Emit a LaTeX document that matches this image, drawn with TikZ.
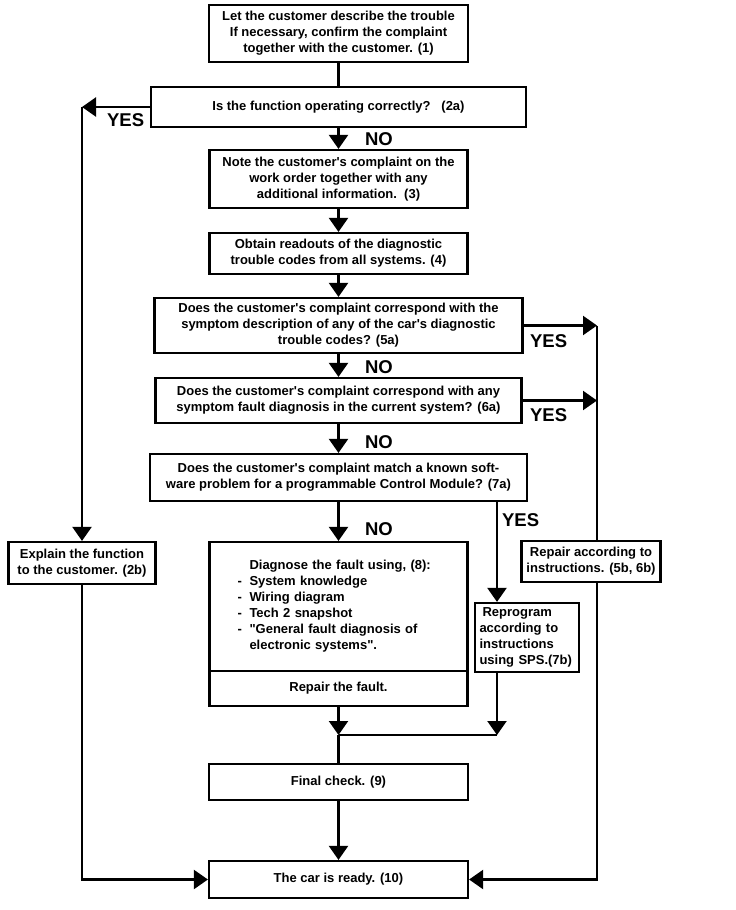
\documentclass[tikz,border=0pt]{standalone}
\usepackage{fontspec}
\setmainfont{Liberation Sans}
\usetikzlibrary{arrows.meta}

\tikzset{every picture/.style={line width=2.2pt}}
\newcommand{\boxfont}{\bfseries\fontsize{13}{16}\selectfont}
\newcommand{\lblfont}{\bfseries\fontsize{18.5}{20}\selectfont}
\newcommand{\apos}{\textquotesingle}

\begin{document}
\begin{tikzpicture}[x=1pt,y=1pt,yscale=-1,xscale=1,
  stepbox/.style={draw,rectangle,inner sep=0pt,align=center,font=\boxfont},
  lbl/.style={anchor=west,inner sep=0pt,font=\lblfont},
  arr/.style={-{Triangle[length=14pt,width=19pt]}}]
\useasboundingbox (0,0) rectangle (736,910);
%Shape: Rectangle (1)
\node[stepbox,minimum width=259pt,minimum height=57pt] (describe) at (338.5,33.5) {Let the customer describe the trouble\\If necessary, confirm the complaint\\together with the customer. (1)};
%Shape: Rectangle (2a)
\node[stepbox,minimum width=375pt,minimum height=40pt] (func) at (338.5,107) {Is the function operating correctly?\ \ \ (2a)};
%Shape: Rectangle (3)
\node[stepbox,minimum width=258pt,minimum height=58pt] (note) at (338.5,179) {Note the customer\apos s complaint on the\\work order together with any\\additional information.\ \ (3)};
%Shape: Rectangle (4)
\node[stepbox,minimum width=258pt,minimum height=41pt] (codes) at (338.5,253.5) {Obtain readouts of the diagnostic\\trouble codes from all systems. (4)};
%Shape: Rectangle (5a)
\node[stepbox,minimum width=368pt,minimum height=55pt] (corr5) at (338.5,325.5) {Does the customer\apos s complaint correspond with the\\symptom description of any of the car\apos s diagnostic\\trouble codes? (5a)};
%Shape: Rectangle (6a)
\node[stepbox,minimum width=366pt,minimum height=45pt] (corr6) at (338.5,400.5) {Does the customer\apos s complaint correspond with any\\symptom fault diagnosis in the current system? (6a)};
%Shape: Rectangle (7a)
\node[stepbox,minimum width=377pt,minimum height=47pt] (match7) at (338.5,477.5) {Does the customer\apos s complaint match a known soft-\\ware problem for a programmable Control Module? (7a)};
%Shape: Rectangle (2b)
\node[stepbox,minimum width=147pt,minimum height=42pt] (explain) at (82,563) {Explain the function\\to the customer. (2b)};
%Shape: Rectangle (8)
\node[stepbox,minimum width=258pt,minimum height=129pt,text width=202pt,align=left] (diag) at (338.5,606.5) {\hspace*{12pt}Diagnose the fault using, (8):\\
\makebox[12pt][l]{-}System knowledge\\
\makebox[12pt][l]{-}Wiring diagram\\
\makebox[12pt][l]{-}Tech 2 snapshot\\
\makebox[12pt][l]{-}\textquotedbl General fault diagnosis of\\
\hspace*{12pt}electronic systems\textquotedbl.};
%Shape: Rectangle (8, lower part)
\node[stepbox,minimum width=258pt,minimum height=35pt] (repair) at (338.5,688.5) {Repair the fault.};
%Shape: Rectangle (7b)
\node[stepbox,minimum width=104pt,minimum height=69pt,text width=95pt,align=left] (reprog) at (527,637.5) {\hspace*{3pt}Reprogram\\according to\\instructions\\using SPS.(7b)};
%Shape: Rectangle (5b, 6b)
\node[stepbox,minimum width=139pt,minimum height=41pt] (repair56) at (591,561.5) {Repair according to\\instructions. (5b, 6b)};
%Shape: Rectangle (9)
\node[stepbox,minimum width=259pt,minimum height=36pt] (final) at (338.5,782) {Final check. (9)};
%Shape: Rectangle (10)
\node[stepbox,minimum width=259pt,minimum height=37pt] (ready) at (338.5,879.5) {The car is ready. (10)};

% Turning points
\coordinate (lline) at (82,107);
\coordinate (rline) at (597,325.5);
\coordinate (ytop) at (497,501);
\coordinate (join) at (338.5,735);

%Straight Lines: main column
\draw (describe) -- (func);
\draw[arr] (func) -- (note);
\draw[arr] (note) -- (codes);
\draw[arr] (codes) -- (corr5);
\draw[arr] (corr5) -- (corr6);
\draw[arr] (corr6) -- (match7);
\draw[arr] (match7) -- (diag);
\draw[arr] (repair) -- (join);
\draw (join) -- (final);
\draw[arr] (final) -- (ready);
%Straight Lines: left branch
\draw[arr] (func.west) -- (lline);
\draw[arr] (lline) -- (lline |- explain.north);
\draw[arr] (explain.south) |- (ready.west);
%Straight Lines: right branch
\draw[arr] (corr5.east) -- (rline);
\draw[arr] (corr6.east) -- (corr6.east -| rline);
\draw (rline) -- (rline |- repair56.north);
\draw[arr] (rline |- repair56.south) |- (ready.east);
%Straight Lines: 7b branch
\draw[arr] (ytop) -- (ytop |- reprog.north);
\draw[arr] (ytop |- reprog.south) -- (join -| ytop);
\draw (join) -- (join -| ytop);

% Text Node
\node[lbl] (no2) at (364,139) {NO};
% Text Node
\node[lbl] (no5) at (364,367) {NO};
% Text Node
\node[lbl] (no6) at (364,442) {NO};
% Text Node
\node[lbl] (no7) at (364,529) {NO};
% Text Node
\node[lbl] (yes2) at (106,120) {YES};
% Text Node
\node[lbl] (yes5) at (529,341) {YES};
% Text Node
\node[lbl] (yes6) at (529,415) {YES};
% Text Node
\node[lbl] (yes7) at (501,520) {YES};
\end{tikzpicture}
\end{document}
